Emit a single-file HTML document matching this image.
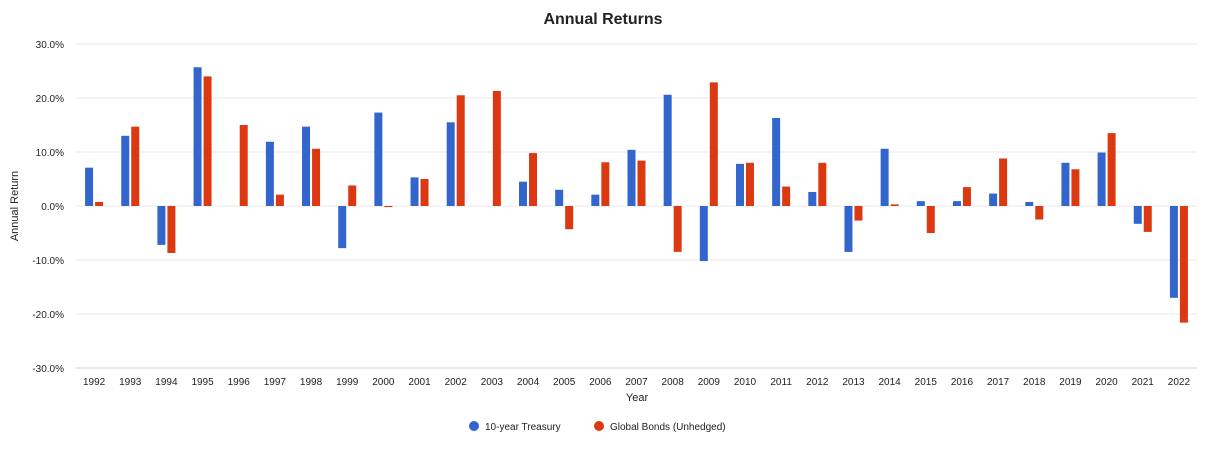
<!DOCTYPE html>
<html><head><meta charset="utf-8"><style>
body{margin:0;background:#fff;font-family:"Liberation Sans",Arial,sans-serif}
svg text{font-family:"Liberation Sans",Arial,sans-serif}
</style></head><body>
<svg id="chart" width="1226" height="445" xmlns="http://www.w3.org/2000/svg">
<text x="603" y="24" text-anchor="middle" font-size="16" font-weight="bold" fill="#222">Annual Returns</text>
<text transform="translate(18,206) rotate(-90)" text-anchor="middle" font-size="11" fill="#222">Annual Return</text>
<text x="637" y="401" text-anchor="middle" font-size="11" fill="#222">Year</text>
<g id="grid"></g><g id="bars"></g><g id="xlabels"></g>
<g>
<g><circle cx="474" cy="426" r="5" fill="#3366cc"/><text x="485" y="430" font-size="10" fill="#222">10-year Treasury</text></g>
<g><circle cx="599" cy="426" r="5" fill="#dc3912"/><text x="610" y="430" font-size="10" fill="#222">Global Bonds (Unhedged)</text></g>
</g>
</svg>
<script>
const years=[1992,1993,1994,1995,1996,1997,1998,1999,2000,2001,2002,2003,2004,2005,2006,2007,2008,2009,2010,2011,2012,2013,2014,2015,2016,2017,2018,2019,2020,2021,2022];
const treasury=[7.1,13.0,-7.2,25.7,0,11.9,14.7,-7.8,17.3,5.3,15.5,0,4.5,3.0,2.1,10.4,20.6,-10.2,7.8,16.3,2.6,-8.5,10.6,0.9,0.9,2.3,0.75,8.0,9.9,-3.3,-17.0];
const globalBonds=[0.75,14.7,-8.7,24.0,15.0,2.1,10.6,3.8,-0.2,5.0,20.5,21.3,9.8,-4.3,8.1,8.4,-8.5,22.9,8.0,3.6,8.0,-2.7,0.3,-5.0,3.5,8.8,-2.5,6.8,13.5,-4.8,-21.6];
const yTicks=[30,20,10,0,-10,-20,-30];
const NS="http://www.w3.org/2000/svg";
const L=76,R=1197,T=44,B=368;
function y(v){return T+(30-v)/60*(B-T);}
const step=(R-L)/years.length;
function xc(i){return L+step*(i+0.5);}
function mk(tag,attrs,parent){const e=document.createElementNS(NS,tag);for(const k in attrs)e.setAttribute(k,attrs[k]);parent.appendChild(e);return e;}
const grid=document.getElementById('grid'),bars=document.getElementById('bars'),xl=document.getElementById('xlabels');
yTicks.forEach(t=>{
 const ln=mk('line',{x1:L,x2:R,y1:y(t),y2:y(t),stroke:t===-30?'#ccd6e0':'#e8e8e8','stroke-width':1},grid);
 
 
 const tx=mk('text',{x:64,y:y(t)+4,'text-anchor':'end','font-size':10,fill:'#222'},grid);
 tx.textContent=t.toFixed(1)+'%';
 
 
});
const bw=8,gap=2;
years.forEach((yr,i)=>{
 const c=xc(i);
 [[treasury[i],'#3366cc',c-gap/2-bw,'bar-treasury'],[globalBonds[i],'#dc3912',c+gap/2,'bar-global-bonds']].forEach(([v,col,x,n])=>{
  const y0=y(0),yv=y(v);
  const r=mk('rect',{x:x,y:Math.min(y0,yv),width:bw,height:Math.max(Math.abs(yv-y0),0.01),fill:col},bars);
  
  
 });
 const tx=mk('text',{x:c,y:385,'text-anchor':'middle','font-size':10,fill:'#222'},xl);
 tx.textContent=yr;
 
 
});
</script>
</body></html>
